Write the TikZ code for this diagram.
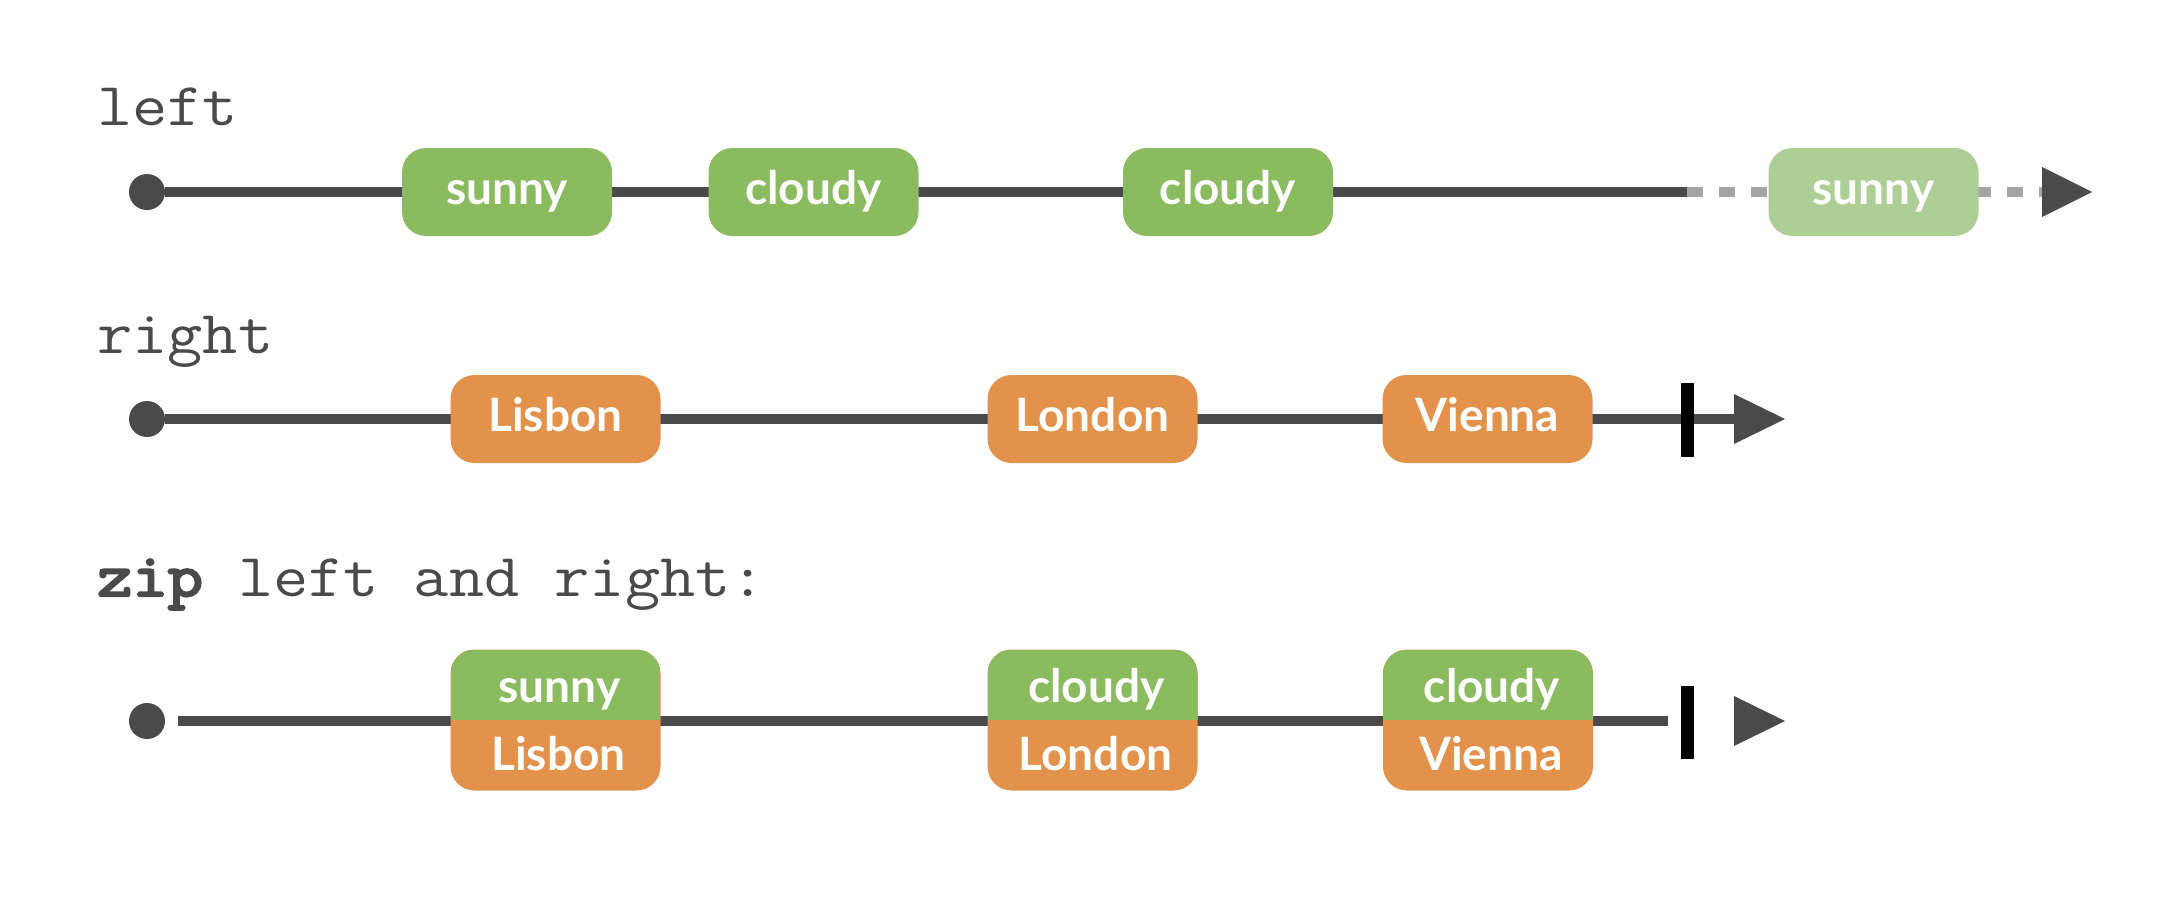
\documentclass[tikz,border=0pt]{standalone}
\usepackage{fontspec}
\setmonofont{Latin Modern Mono}[FakeStretch=1.12]
\newfontfamily\zipfont{Latin Modern Mono}[FakeStretch=1.12, FakeBold=4]
\newfontfamily\boxfont{Lato}
\definecolor{dk}{HTML}{4A4A4A}
\definecolor{gr}{HTML}{8ABB5F}
\definecolor{lgr}{HTML}{ADCE95}
\definecolor{og}{HTML}{E2924A}
\definecolor{dgray}{HTML}{A6A6A6}
\begin{document}
\begin{tikzpicture}[x=0.5pt,y=-0.5pt,
  lbl/.style={anchor=base west, inner sep=0, text=dk, font=\ttfamily\fontsize{30.5pt}{31pt}\selectfont},
  dotn/.style={circle, fill=dk, inner sep=0, minimum size=18pt},
  bx/.style={rounded corners=12pt, inner sep=0, minimum width=105pt, minimum height=44pt,
     text height=17pt, text depth=5pt, text=white, font=\boxfont\bfseries\fontsize{23pt}{24pt}\selectfont},
  gbox/.style={bx, fill=gr},
  lgbox/.style={bx, fill=lgr},
  obox/.style={bx, fill=og},
  zbox/.style={rounded corners=12pt, inner sep=0, minimum width=105pt, minimum height=70.5pt, fill=og,
     path picture={\fill[gr, sharp corners] (path picture bounding box.north west) rectangle (path picture bounding box.east);}},
  btxt/.style={inner sep=0, anchor=base, text=white, font=\boxfont\bfseries\fontsize{23pt}{24pt}\selectfont},
  tline/.style={draw=dk, line width=5pt},
  dline/.style={draw=dgray, line width=5pt, dash pattern=on 8pt off 8pt},
  tickbar/.style={draw=black, line width=6.5pt},
  tipfill/.style={fill=dk}
]
\useasboundingbox (0,0) rectangle (2168,896);

% ---- row 1: left
\node[lbl] (lleft) at (97,125) {left};
\node[dotn] (d1) at (147,192) {};
\coordinate (e1) at (1687,192);
\coordinate (e1b) at (2042,192);
\coordinate (a1) at (2092,192);
\draw[tline] (d1) -- (e1);
\draw[dline] (e1) -- (e1b);
\fill[tipfill] (a1) -- ++(-50,-25) -- ++(0,50) -- cycle;
\node[gbox] (l1) at (507,192) {sunny};
\node[gbox] (l2) at (813.5,192) {cloudy};
\node[gbox] (l3) at (1228,192) {cloudy};
\node[lgbox] (l4) at (1873.5,192) {sunny};

% ---- row 2: right
\node[lbl] (lright) at (97,353) {right};
\node[dotn] (d2) at (147,419) {};
\coordinate (e2) at (1734,419);
\coordinate (a2) at (1785,419);
\coordinate (t2a) at (1687.5,383);
\coordinate (t2b) at (1687.5,457);
\draw[tline] (d2) -- (e2);
\draw[tickbar] (t2a) -- (t2b);
\fill[tipfill] (a2) -- ++(-51,-25) -- ++(0,50) -- cycle;
\node[obox] (r1) at (555.5,419) {Lisbon};
\node[obox] (r2) at (1092.5,419) {London};
\node[obox] (r3) at (1487.5,419) {Vienna};

% ---- row 3: zip
\node[lbl] (lzip) at (97,596) {{\zipfont zip} left and right:};
\node[dotn] (d3) at (147,721) {};
\coordinate (s3) at (178,721);
\coordinate (e3) at (1668,721);
\coordinate (a3) at (1785,721);
\coordinate (t3a) at (1687.5,686);
\coordinate (t3b) at (1687.5,759);
\draw[tline] (s3) -- (e3);
\draw[tickbar] (t3a) -- (t3b);
\fill[tipfill] (a3) -- ++(-51,-25) -- ++(0,50) -- cycle;
\node[zbox] (z1) at (555.5,720) {};
\node[zbox] (z2) at (1092.5,720) {};
\node[zbox] (z3) at (1488,720) {};
\node[btxt] (z1t) at ([shift={(4,-18)}]z1.center) {sunny};
\node[btxt] (z1b) at ([shift={(3,50)}]z1.center) {Lisbon};
\node[btxt] (z2t) at ([shift={(4,-18)}]z2.center) {cloudy};
\node[btxt] (z2b) at ([shift={(3,50)}]z2.center) {London};
\node[btxt] (z3t) at ([shift={(4,-18)}]z3.center) {cloudy};
\node[btxt] (z3b) at ([shift={(3,50)}]z3.center) {Vienna};
\end{tikzpicture}
\end{document}
